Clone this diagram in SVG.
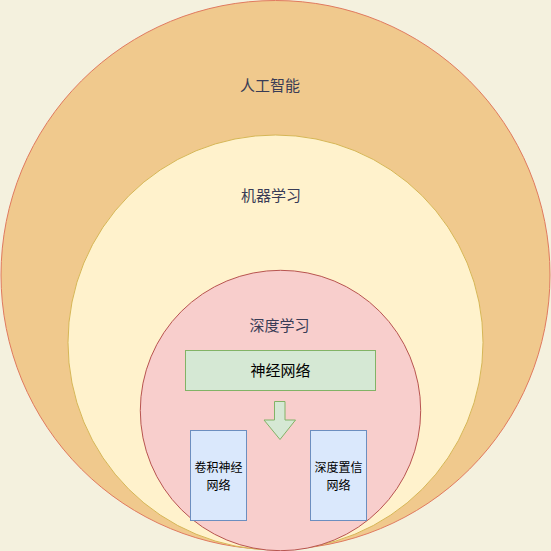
<svg xmlns="http://www.w3.org/2000/svg" width="551" height="551" viewBox="0 0 551 551">
<style>
text{font-family:"Noto Sans CJK SC","Noto Sans",sans-serif;text-anchor:middle;dominant-baseline:central}
.lbl{font-size:15px;fill:#393C56}
.nn{font-size:15px;fill:#000}
.sm{font-size:12px;fill:#000}
</style>
<rect width="551" height="551" fill="#F4F1DE"/>
<g id="ai"><circle cx="275.5" cy="275" r="274.5" fill="#F0C98D" stroke="#E07A5F"/><text class="lbl" x="270" y="84.5">人工智能</text></g>
<g id="ml"><circle cx="275.5" cy="342.5" r="207.5" fill="#FFF2CC" stroke="#D6B656"/><text class="lbl" x="271" y="194.5">机器学习</text></g>
<g id="dl"><circle cx="280.5" cy="410.5" r="140.2" fill="#F8CECC" stroke="#B85450"/><text class="lbl" x="279.5" y="324.5">深度学习</text></g>
<g id="nn"><rect x="185.5" y="350.5" width="190" height="40" fill="#D5E8D4" stroke="#82B366"/><text class="nn" x="280.5" y="369.5">神经网络</text></g>
<g id="connectors"><path d="M274.5 401.5H285V420H295.5L280 439.5L264 420H274.5Z" fill="#D5E8D4" stroke="#82B366"/></g>
<g id="cnn"><rect x="190.5" y="430.5" width="56" height="90" fill="#DAE8FC" stroke="#6C8EBF"/><text class="sm" x="218.5" y="466">卷积神经</text><text class="sm" x="218.5" y="484.5">网络</text></g>
<g id="dbn"><rect x="310.5" y="430.5" width="56" height="90" fill="#DAE8FC" stroke="#6C8EBF"/><text class="sm" x="338.5" y="466">深度置信</text><text class="sm" x="338.5" y="484.5">网络</text></g>
</svg>
